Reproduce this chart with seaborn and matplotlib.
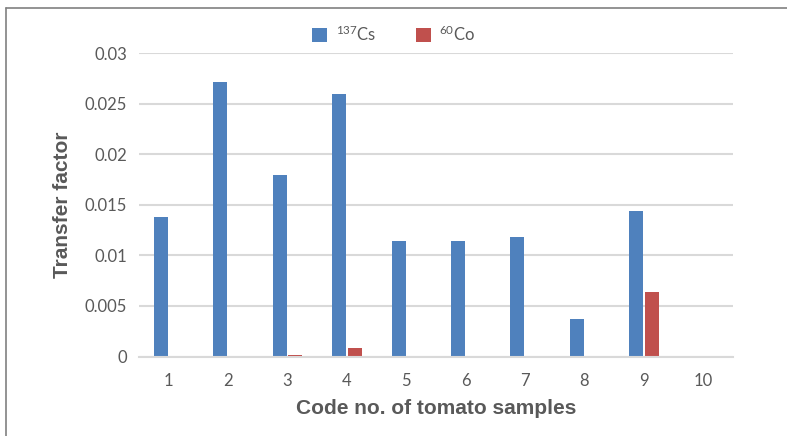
import matplotlib
matplotlib.use("Agg")
import matplotlib.pyplot as plt
from matplotlib.lines import Line2D
import seaborn as sns
import pandas as pd

samples = ["1", "2", "3", "4", "5", "6", "7", "8", "9", "10"]
cs137 = [0.01384, 0.02721, 0.0180, 0.02602, 0.01147, 0.01147, 0.01186, 0.00371, 0.01444, 0.0]
co60 = [0.0, 0.0, 0.00015, 0.0008, 0.0, 0.0, 0.0, 0.0, 0.00639, 0.0]
series_names = [r"$^{137}$Cs", r"$^{60}$Co"]
y_ticks = [0, 0.005, 0.01, 0.015, 0.02, 0.025, 0.03]
y_tick_labels = ["0", "0.005", "0.01", "0.015", "0.02", "0.025", "0.03"]

df = pd.DataFrame({
    "sample": samples * 2,
    "isotope": [series_names[0]] * len(samples) + [series_names[1]] * len(samples),
    "value": cs137 + co60,
})

sns.set_style("white")
plt.rcParams["font.family"] = ["Lato", "DejaVu Sans"]
plt.rcParams["mathtext.default"] = "regular"

fig = plt.figure(figsize=(7.87, 4.36), dpi=100)
ax = fig.add_axes([0.1766, 0.1823, 0.7548, 0.6954])

sns.barplot(data=df, x="sample", y="value", hue="isotope", order=samples,
            hue_order=series_names, palette=["#4F81BD", "#C0504D"],
            width=0.52, gap=0.1, errorbar=None, ax=ax, linewidth=0,
            saturation=1)

ax.set_ylim(0, 0.03)
ax.set_xlim(-0.5, 9.5)
ax.set_yticks(y_ticks)
ax.set_yticklabels(y_tick_labels)
ax.yaxis.grid(True, color="#D9D9D9", linewidth=1.5)
ax.set_axisbelow(True)
for s in ["top", "right", "left"]:
    ax.spines[s].set_visible(False)
ax.spines["bottom"].set_color("#D9D9D9")
ax.spines["bottom"].set_linewidth(1.5)
ax.tick_params(axis="both", length=0, labelsize=12, colors="#595959")
ax.tick_params(axis="y", pad=8.5)
ax.tick_params(axis="x", pad=12)

ax.set_xlabel("Code no. of tomato samples", fontsize=15, fontweight="bold",
              color="#595959", family=["Liberation Sans"], labelpad=7)
ax.set_ylabel("Transfer factor", fontsize=15, fontweight="bold",
              color="#595959", family=["Liberation Sans"], labelpad=9)

leg = ax.legend(loc="lower center", bbox_to_anchor=(0.429, 1.0), ncol=2,
                frameon=False, fontsize=12, handlelength=0.9, handleheight=0.9,
                columnspacing=2.4, handletextpad=0.5, borderaxespad=0.15)
for t in leg.get_texts():
    t.set_color("#595959")

fig.add_artist(Line2D([6 / 787, 6 / 787], [0, 1 - 8 / 436], transform=fig.transFigure,
                      color="#808080", linewidth=1.2))
fig.add_artist(Line2D([6 / 787, 1], [1 - 8 / 436, 1 - 8 / 436], transform=fig.transFigure,
                      color="#808080", linewidth=1.2))

fig.savefig("out.png", dpi=100)
